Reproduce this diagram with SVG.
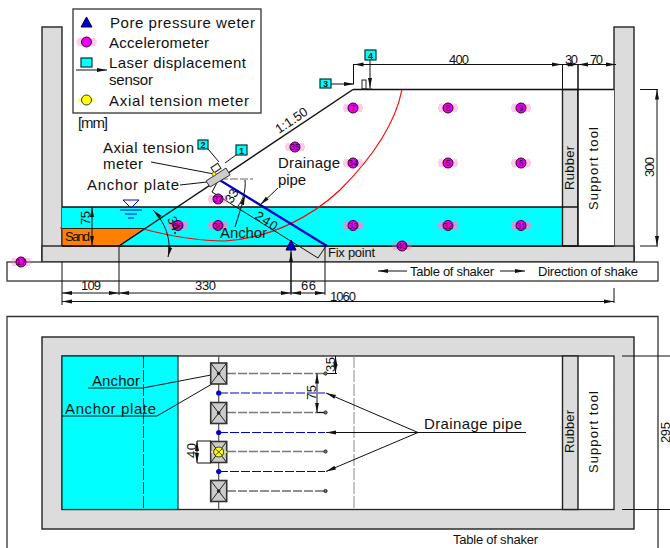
<svg xmlns="http://www.w3.org/2000/svg" xmlns:xlink="http://www.w3.org/1999/xlink" width="670" height="548" viewBox="0 0 670 548">
<style>
text{font-family:"Liberation Sans",Arial,sans-serif;font-size:15px;fill:#111;stroke:none}
.s{font-size:13px}
.n{font-size:8.500px;text-anchor:middle;fill:#303}
.b{font-size:9px;font-weight:bold;text-anchor:middle}
.g{fill:#dcdcdc;stroke:#222;stroke-width:1.4}
.c{fill:#0ff;stroke:#033;stroke-width:1.200}
.l{fill:none;stroke:#111;stroke-width:1}
.k{fill:none;stroke:#111;stroke-width:1.5}
.d{fill:none;stroke:#777;stroke-width:1.600;stroke-dasharray:9 2}
.bd{fill:none;stroke:#00d;stroke-width:1.200;stroke-dasharray:9 2}
.a{marker-end:url(#ah)}
.ab{marker-start:url(#ahs);marker-end:url(#ah)}
</style>
<defs>
<marker id="ah" markerWidth="12" markerHeight="6" refX="10" refY="3" orient="auto" markerUnits="userSpaceOnUse"><path d="M0 1L10 3L0 5Z" fill="#111"/></marker>
<marker id="ahs" markerWidth="12" markerHeight="6" refX="0" refY="3" orient="auto" markerUnits="userSpaceOnUse"><path d="M10 1L0 3L10 5Z" fill="#111"/></marker>
<g id="acc"><path d="M-9 -3H9M-10 -1H10M-10 1H10M-9 3H9" stroke="#f7c" stroke-width="1" opacity=".75"/><circle r="5" fill="#e0e" stroke="#303" stroke-width="1"/></g>
<g id="anc"><rect x="-8" y="-10.500" width="16" height="21" fill="#ccc" stroke="#333" stroke-width="1.600"/><path d="M-8 -10.500L8 10.500M8 -10.500L-8 10.500" stroke="#222"/><circle r="1.800" fill="#222"/></g>
</defs>

<g id="elevation-frame">
<rect class="g" x="42" y="27" width="20" height="235"/>
<rect class="g" x="614" y="27" width="20" height="235"/>
<rect class="g" x="42" y="246" width="592" height="16"/>
<rect x="62" y="207" width="500" height="39" fill="#0ff"/>
<path d="M62 228.500H145L119 246H62Z" fill="#ff8000" stroke="#222"/>
<rect class="g" x="562.500" y="89.500" width="15.500" height="156.500"/>
<rect x="578" y="89.500" width="36" height="156.500" fill="#fff"/>
<path class="k" d="M578 246H614M62 246H578M62 207H578M353 89.500H614M578 64V246"/>
<rect x="7" y="262" width="651" height="19" fill="#fff" stroke="#333" stroke-width="1.300"/>
</g>

<g id="slope"><path class="k" d="M119 246L353 89.500"/></g>
<g id="slip-circle"><path d="M143 229C170 236 195 241 225 241C270 238 310 218 340 190C370 160 395 125 402 89.500M60 228H62" fill="none" stroke="#f00" stroke-width="1.200"/></g>

<g id="connectors">
<path d="M218 179L327 246" fill="none" stroke="#00c" stroke-width="2.200"/>
<path class="l" d="M212 192L318 258M219 179L212 192M326 246L318 258"/>
<path class="l" d="M62 262V305M119 246V295M291 250V295M325 246V295M614 288V303"/>
<path class="l ab" d="M62 293H119"/><path class="l ab" d="M119 293H291"/><path class="l ab" d="M291 293H325"/>
<path class="l ab" d="M62 301.500H614"/>
<path class="l ab" d="M92 207V246"/>
<path class="l" d="M353.500 64V84"/>
<path class="l ab" d="M353.500 64.500H562"/><path class="l ab" d="M562.500 64.500H578"/><path class="l ab" d="M578 64.500H616"/>
<path class="l" d="M562.500 64V89.500"/>
<path class="l" d="M640 89.500H658M640 246H658"/><path class="l ab" d="M657 89.500V246"/>
<path class="l a" d="M331 84H354"/>
<path class="l a" d="M370 60V88"/>
<path class="l" d="M208 149L219 162"/><path class="l" d="M236 155L225 163"/>
<path class="l" d="M151 162L214 174M180 185L207 182"/>
<path class="l a" d="M278 188L260 205"/>
<path class="l a" d="M235 227L245 195"/>
<path d="M220 179H253" stroke="#666" stroke-width="1" stroke-dasharray="8 2" fill="none"/>
<path class="l" d="M245 180C246 190 243 200 238 206"/>
<path class="l ab" d="M153 210C165 222 172 240 168 257"/>
<path class="l a" d="M407 271H378"/><path class="l a" d="M500 271H525"/>
<path class="l a" d="M291 293V252"/>
</g>

<g id="plate-assembly">
<path d="M206 181L226 168L230 175L210 187Z" fill="#ccc" stroke="#333"/>
<rect x="212" y="165" width="8" height="6" fill="#fff" stroke="#222" transform="rotate(-34 216 168)"/>
<circle cx="214" cy="174" r="2" fill="#ff0" stroke="#333" stroke-width=".6"/>
<circle cx="175" cy="233" r="1" fill="#111"/>
</g>

<g id="water-table" fill="none" stroke="#00d" stroke-width="1">
<path d="M123 200H139L131 208Z"/><path d="M120 210H142M125 214H137M128 218H134"/>
</g>

<g id="laser-3"><rect class="c" x="320" y="79" width="11" height="9"/><text class="b" x="325.500" y="87">3</text></g>
<g id="laser-4"><rect class="c" x="365" y="50" width="11" height="10"/><text class="b" x="370.500" y="58.500">4</text></g>
<g id="laser-1"><rect class="c" x="236" y="145" width="11" height="10"/><text class="b" x="241.500" y="153.500">1</text></g>
<g id="laser-2"><rect class="c" x="198" y="140" width="10" height="9"/><text class="b" x="203" y="148">2</text></g>
<g id="target-3"><rect x="362" y="80" width="4" height="9" fill="#fff" stroke="#222"/><path class="l" d="M362 89H372"/></g>

<g id="pore-pressure-gauge"><path d="M291 240L296 250H286Z" fill="#00c" stroke="#004"/></g>

<g id="acc-7"><use xlink:href="#acc" href="#acc" x="353" y="108"/><text class="n" x="353" y="111">7</text></g>
<g id="acc-8"><use xlink:href="#acc" href="#acc" x="448" y="108"/><text class="n" x="448" y="111">8</text></g>
<g id="acc-9"><use xlink:href="#acc" href="#acc" x="521" y="108"/><text class="n" x="521" y="111">9</text></g>
<g id="acc-34"><use xlink:href="#acc" href="#acc" x="353" y="163"/><text class="n" x="353" y="166">34</text></g>
<g id="acc-5"><use xlink:href="#acc" href="#acc" x="448" y="163"/><text class="n" x="448" y="166">5</text></g>
<g id="acc-6"><use xlink:href="#acc" href="#acc" x="521" y="163"/><text class="n" x="521" y="166">6</text></g>
<g id="acc-33"><use xlink:href="#acc" href="#acc" x="353" y="225.500"/><text class="n" x="353" y="228.500">33</text></g>
<g id="acc-32"><use xlink:href="#acc" href="#acc" x="448" y="225.500"/><text class="n" x="448" y="228.500">32</text></g>
<g id="acc-31"><use xlink:href="#acc" href="#acc" x="521" y="225.500"/><text class="n" x="521" y="228.500">31</text></g>
<g id="acc-35"><use xlink:href="#acc" href="#acc" x="295" y="147"/><text class="n" x="295" y="150">35</text></g>
<g id="acc-37"><use xlink:href="#acc" href="#acc" x="218" y="199"/><text class="n" x="218" y="202">37</text></g>
<g id="acc-38"><use xlink:href="#acc" href="#acc" x="178" y="225.500"/><text class="n" x="178" y="228.500">38</text></g>
<g id="acc-36"><use xlink:href="#acc" href="#acc" x="218" y="225.500"/><text class="n" x="218" y="228.500">36</text></g>
<g id="acc-40"><use xlink:href="#acc" href="#acc" x="402" y="246"/><text class="n" x="402" y="249">40</text></g>
<g id="acc-17"><use xlink:href="#acc" href="#acc" x="21" y="262"/><text class="n" x="21" y="265">17</text></g>

<g id="legend">
<rect x="73" y="9" width="188" height="104" fill="#fff" stroke="#333" stroke-width="1.300"/>
<path d="M86.500 17L92 27H81Z" fill="#00c" stroke="#004"/>
<use xlink:href="#acc" href="#acc" x="86.500" y="42"/>
<rect class="c" x="81" y="58" width="11" height="9"/>
<path class="l a" d="M76 70H107"/>
<path d="M78 100H95" stroke="#ff6" stroke-width="3"/><circle cx="86.500" cy="100" r="5" fill="#ff0" stroke="#333"/>
<text x="110" y="28" textLength="145">Pore pressure weter</text>
<text x="109" y="48" textLength="100">Accelerometer</text>
<text x="109" y="68" textLength="137">Laser displacement</text>
<text x="109" y="85" textLength="44">sensor</text>
<text x="109" y="106" textLength="140">Axial tension meter</text>
</g>

<g id="elevation-labels">
<text x="78" y="128" textLength="30">[mm]</text>
<text x="103" y="153" textLength="91">Axial tension</text>
<text x="103" y="169" textLength="40">meter</text>
<text x="87" y="190" textLength="92">Anchor plate</text>
<text x="278" y="168" textLength="62">Drainage</text>
<text x="278" y="185" textLength="28">pipe</text>
<text x="220" y="238" textLength="47">Anchor</text>
<text class="s" x="65" y="241" textLength="25">Sand</text>
<text class="s" x="328" y="257" textLength="47">Fix point</text>
<text x="0" y="0" textLength="36" class="s" transform="translate(279 134) rotate(-34)">1:1.50</text>
<text x="0" y="0" textLength="24" class="s" transform="translate(254 218) rotate(33)">240</text>
<text x="0" y="0" textLength="14" class="s" transform="translate(232 204) rotate(-60)">33</text>
<text x="0" y="0" textLength="14" class="s" transform="translate(167 219) rotate(65)">34</text>
<text x="0" y="0" textLength="14" class="s" transform="translate(90 225) rotate(-90)">75</text>
<text class="s" x="81" y="290" textLength="20">109</text>
<text class="s" x="195" y="290" textLength="21">330</text>
<text class="s" x="301" y="290" textLength="15">66</text>
<text class="s" x="330" y="301" textLength="26">1060</text>
<text class="s" x="449" y="64" textLength="20">400</text>
<text class="s" x="565" y="64" textLength="13">30</text>
<text class="s" x="590" y="64" textLength="13">70</text>
<text x="0" y="0" textLength="20" class="s" transform="translate(654 177) rotate(-90)">300</text>
<text x="0" y="0" textLength="44" class="s" transform="translate(574 190) rotate(-90)">Rubber</text>
<text x="0" y="0" textLength="83" class="s" transform="translate(598 210) rotate(-90)">Support tool</text>
<text class="s" x="410" y="276" textLength="84">Table of shaker</text>
<text class="s" x="538" y="276" textLength="100">Direction of shake</text>
</g>

<g id="plan-frame">
<path d="M7 548V316.500H658V548" fill="#fff" stroke="#333" stroke-width="1.300"/>
<rect class="g" x="42" y="337" width="592" height="192"/>
<rect x="62" y="356" width="552" height="153.500" fill="#fff" stroke="#222" stroke-width="1.300"/>
<rect class="c" x="62" y="356" width="116" height="153.500"/>
<rect class="g" x="562.500" y="356" width="15.500" height="153.500"/>
<path d="M143.500 356V509.500" fill="none" stroke="#222" stroke-width="1" stroke-dasharray="12 2"/>
<path d="M218.700 356V509.500" fill="none" stroke="#555" stroke-width="1.200"/>
<path d="M354 356V509.500" fill="none" stroke="#888" stroke-width="1" stroke-dasharray="12 2"/>
</g>

<g id="plan-connectors">
<path class="d" d="M227 373.500H325M227 412.500H325M227 451.500H325"/>
<path d="M227 491H325" fill="none" stroke="#222" stroke-width="1" stroke-dasharray="9 2"/>
<path class="bd" d="M219 393H325M219 432.500H325M219 471.500H325"/>
<path class="l a" d="M418 432.500L326 393"/><path class="l a" d="M418 432.500H326"/><path class="l a" d="M418 432.500L326 471.500"/>
<path class="l" d="M418 432.500H526"/>
<path class="l" d="M88 388H143L211 375M62 416H157L212 384"/>
<path class="l" d="M325 373.500H337"/><path class="l ab" d="M335.500 356V373.500"/>
<path class="l ab" d="M317 373.500V412.500"/><path class="l" d="M317 412.500H325"/>
<path class="l" d="M197 441H211M197 463H211"/><path class="l ab" d="M197 441V463"/>
<path class="l" d="M622 356H670M622 509.500H670"/>
</g>

<g id="anchor-1"><use xlink:href="#anc" href="#anc" x="218.700" y="373.500"/></g>
<g id="anchor-2"><use xlink:href="#anc" href="#anc" x="218.700" y="413"/></g>
<g id="anchor-3"><use xlink:href="#anc" href="#anc" x="218.700" y="452"/><path d="M211 452H227" stroke="#ff6" stroke-width="2" opacity=".7"/><circle cx="218.700" cy="452" r="5" fill="#ff0" stroke="#333"/><path d="M215 448.500L222.500 455.500M222.500 448.500L215 455.500" stroke="#222" stroke-width=".8"/></g>
<g id="anchor-4"><use xlink:href="#anc" href="#anc" x="218.700" y="491"/></g>

<g id="pipe-heads" fill="#00c"><circle cx="218.700" cy="393" r="2.600"/><circle cx="218.700" cy="432.500" r="2.600"/><circle cx="218.700" cy="471.500" r="2.600"/></g>
<g id="pipe-ends" fill="#777" stroke="#222"><circle cx="325.500" cy="373.500" r="1.600"/><circle cx="325.500" cy="412.500" r="1.600"/><circle cx="325.500" cy="451.500" r="1.600"/><circle cx="325.500" cy="491" r="1.600"/></g>

<g id="plan-labels">
<text x="92" y="386" textLength="48">Anchor</text>
<text x="65" y="414" textLength="91">Anchor plate</text>
<text x="424" y="429" textLength="98">Drainage pipe</text>
<text x="0" y="0" textLength="43" class="s" transform="translate(574 453) rotate(-90)">Rubber</text>
<text x="0" y="0" textLength="82" class="s" transform="translate(598 473) rotate(-90)">Support tool</text>
<text x="453" y="544" textLength="85" class="s">Table of shaker</text>
<text x="0" y="0" textLength="15" class="s" transform="translate(334.500 372) rotate(-90)">35</text>
<text x="0" y="0" textLength="15" class="s" transform="translate(316 400) rotate(-90)">75</text>
<text x="0" y="0" textLength="15" class="s" transform="translate(196 458) rotate(-90)">40</text>
<text x="0" y="0" textLength="21" class="s" transform="translate(669.500 443) rotate(-90)">295</text>
</g>
</svg>
